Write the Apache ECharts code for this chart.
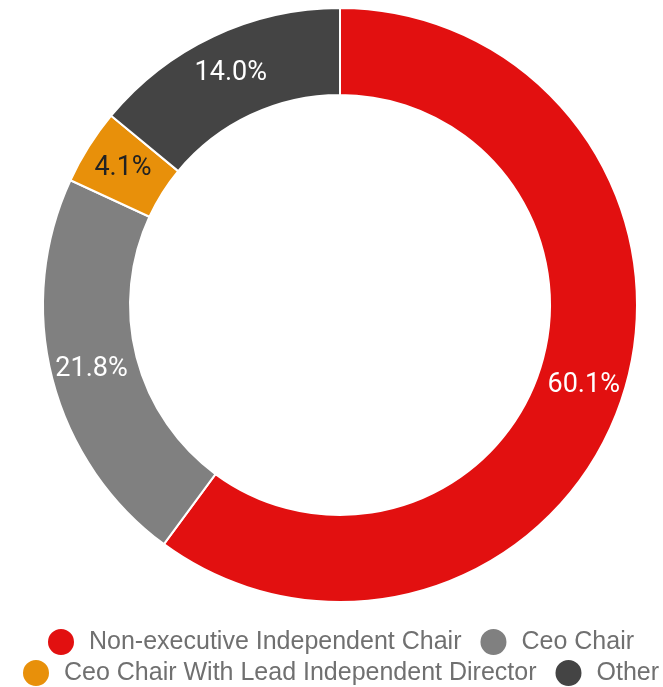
<!DOCTYPE html>
<html>
<head>
<meta charset="utf-8">
<script src="https://cdn.jsdelivr.net/npm/echarts@6/dist/echarts.min.js"></script>
<style>
html,body{margin:0;padding:0;background:#fff;}
#chart{width:663px;height:687px;}
</style>
</head>
<body>
<div id="chart"></div>
<script>
const categories = ["Non-executive Independent Chair", "Ceo Chair", "Ceo Chair With Lead Independent Director", "Other"];
const values = [60.1, 21.8, 4.1, 14.0];
const colors = ["#E21010", "#808080", "#E8900A", "#444444"];
const labelColors = ["#ffffff", "#ffffff", "#222222", "#ffffff"];

const chart = echarts.init(document.getElementById('chart'));
const data = categories.map((c, i) => ({
  name: c,
  value: values[i],
  itemStyle: { color: colors[i] },
  label: { color: labelColors[i] }
}));

const legendCommon = {
  orient: 'horizontal',
  icon: 'circle',
  padding: 0,
  itemWidth: 28,
  itemHeight: 28,
  itemGap: 17,
  textStyle: { fontFamily: 'Liberation Sans', fontSize: 25, color: '#707070', padding: [0, 0, 0, 9] },
  selectedMode: false
};

chart.setOption({
  animation: false,
  legend: [
    Object.assign({}, legendCommon, { left: 46, top: 627, data: [categories[0], categories[1]] }),
    Object.assign({}, legendCommon, { left: 21, top: 658, data: [categories[2], categories[3]] })
  ],
  series: [{
    type: 'pie',
    center: [340, 305],
    radius: [210, 297],
    startAngle: 90,
    clockwise: true,
    avoidLabelOverlap: false,
    itemStyle: { borderColor: '#ffffff', borderWidth: 2 },
    label: {
      show: true,
      position: 'inside',
      formatter: p => p.value.toFixed(1) + '%',
      fontFamily: 'Roboto',
      fontSize: 27
    },
    labelLine: { show: false },
    emphasis: { disabled: true },
    data: data
  }]
});
</script>
</body>
</html>
